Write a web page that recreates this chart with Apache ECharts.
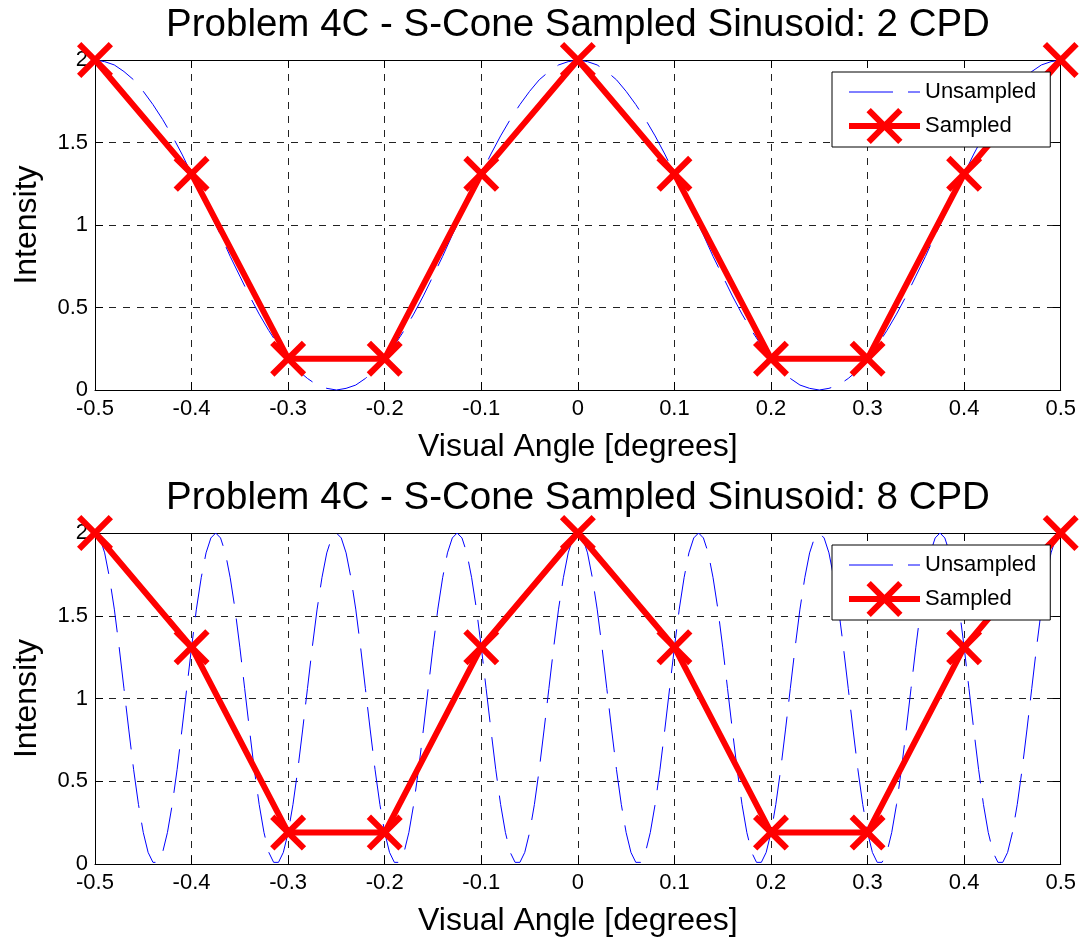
<!DOCTYPE html>
<html>
<head>
<meta charset="utf-8">
<script src="https://cdn.jsdelivr.net/npm/echarts@6/dist/echarts.min.js"></script>
<style>
html,body{margin:0;padding:0;background:#fff;}
#chart{width:1079px;height:938px;}
</style>
</head>
<body>
<div id="chart"></div>
<script>
// ---------------- data ----------------
const titles = ['Problem 4C - S-Cone Sampled Sinusoid: 2 CPD', 'Problem 4C - S-Cone Sampled Sinusoid: 8 CPD'];
const xName = 'Visual Angle [degrees]';
const yName = 'Intensity';
const seriesNames = ['Unsampled', 'Sampled'];

// sample positions (degrees) and sampled intensities
const sampleAngles = [-0.5, -0.4, -0.3, -0.2, -0.1, 0, 0.1, 0.2, 0.3, 0.4, 0.5];
const sampled2 = [2, 1.31, 0.19, 0.19, 1.31, 2, 1.31, 0.19, 0.19, 1.31, 2];
const sampled8 = [2, 1.31, 0.19, 0.19, 1.31, 2, 1.31, 0.19, 0.19, 1.31, 2];

// unsampled curves, read along the angle axis from -0.5 deg
const curveStart = -0.5;
const step2 = 0.01;   // spacing of unsampled2 values (deg)
const step8 = 0.005;  // spacing of unsampled8 values (deg)
const unsampled2 = [
  2.00,1.99,1.97,1.93,1.88,1.81,1.73,1.64,1.54,1.43,
  1.31,1.19,1.06,0.94,0.81,0.69,0.57,0.46,0.36,0.27,
  0.19,0.12,0.07,0.03,0.01,0.00,0.01,0.03,0.07,0.12,
  0.19,0.27,0.36,0.46,0.57,0.69,0.81,0.94,1.06,1.19,
  1.31,1.43,1.54,1.64,1.73,1.81,1.88,1.93,1.97,1.99,
  2.00,1.99,1.97,1.93,1.88,1.81,1.73,1.64,1.54,1.43,
  1.31,1.19,1.06,0.94,0.81,0.69,0.57,0.46,0.36,0.27,
  0.19,0.12,0.07,0.03,0.01,0.00,0.01,0.03,0.07,0.12,
  0.19,0.27,0.36,0.46,0.57,0.69,0.81,0.94,1.06,1.19,
  1.31,1.43,1.54,1.64,1.73,1.81,1.88,1.93,1.97,1.99,
  2.00
];
const unsampled8 = [
  2.00,1.97,1.88,1.73,1.54,1.31,1.06,0.81,0.57,0.36,0.19,0.07,0.01,0.01,0.07,0.19,0.36,0.57,0.81,1.06,1.31,1.54,1.73,1.88,1.97,
  2.00,1.97,1.88,1.73,1.54,1.31,1.06,0.81,0.57,0.36,0.19,0.07,0.01,0.01,0.07,0.19,0.36,0.57,0.81,1.06,1.31,1.54,1.73,1.88,1.97,
  2.00,1.97,1.88,1.73,1.54,1.31,1.06,0.81,0.57,0.36,0.19,0.07,0.01,0.01,0.07,0.19,0.36,0.57,0.81,1.06,1.31,1.54,1.73,1.88,1.97,
  2.00,1.97,1.88,1.73,1.54,1.31,1.06,0.81,0.57,0.36,0.19,0.07,0.01,0.01,0.07,0.19,0.36,0.57,0.81,1.06,1.31,1.54,1.73,1.88,1.97,
  2.00,1.97,1.88,1.73,1.54,1.31,1.06,0.81,0.57,0.36,0.19,0.07,0.01,0.01,0.07,0.19,0.36,0.57,0.81,1.06,1.31,1.54,1.73,1.88,1.97,
  2.00,1.97,1.88,1.73,1.54,1.31,1.06,0.81,0.57,0.36,0.19,0.07,0.01,0.01,0.07,0.19,0.36,0.57,0.81,1.06,1.31,1.54,1.73,1.88,1.97,
  2.00,1.97,1.88,1.73,1.54,1.31,1.06,0.81,0.57,0.36,0.19,0.07,0.01,0.01,0.07,0.19,0.36,0.57,0.81,1.06,1.31,1.54,1.73,1.88,1.97,
  2.00,1.97,1.88,1.73,1.54,1.31,1.06,0.81,0.57,0.36,0.19,0.07,0.01,0.01,0.07,0.19,0.36,0.57,0.81,1.06,1.31,1.54,1.73,1.88,1.97,
  2.00
];

// ---------------- build ----------------
const FONT = "'Liberation Sans', Arial, Helvetica, sans-serif";
const xPairs = (vals, step) => vals.map((v, i) => [+(curveStart + i * step).toFixed(4), v]);
const zip = (xs, ys) => xs.map((x, i) => [x, ys[i]]);
const X_PATH = 'path://M0,12 L12,0 L50,38 L88,0 L100,12 L62,50 L100,88 L88,100 L50,62 L12,100 L0,88 L38,50 Z';

const panels = [
  { top: 60, height: 330, titleTop: 6, legendTop: 72, curve: xPairs(unsampled2, step2), samp: zip(sampleAngles, sampled2) },
  { top: 533, height: 331, titleTop: 479, legendTop: 545, curve: xPairs(unsampled8, step8), samp: zip(sampleAngles, sampled8) }
];

const grid = [], xAxis = [], yAxis = [], series = [], title = [], legend = [];
const axisLine = { show: true, onZero: false, lineStyle: { color: '#000', width: 1 } };
const labelStyle = { color: '#000', fontSize: 22, fontFamily: FONT };

panels.forEach((p, i) => {
  grid.push({ left: 95, width: 966, top: p.top, height: p.height, show: false });
  title.push({
    text: titles[i], left: 578, top: p.titleTop, textAlign: 'center', padding: 0,
    textStyle: { color: '#000', fontSize: 38.5, fontWeight: 'normal', fontFamily: FONT }
  });
  // bottom x axis
  xAxis.push({
    type: 'value', gridIndex: i, position: 'bottom', min: -0.5, max: 0.5, interval: 0.1,
    axisLine, axisTick: { show: true, inside: true, length: 8, lineStyle: { color: '#000' } },
    axisLabel: Object.assign({ margin: 8 }, labelStyle),
    splitLine: { show: true, lineStyle: { color: '#222', type: [7, 7], width: 1 } },
    name: xName, nameLocation: 'middle', nameGap: 41,
    nameTextStyle: { color: '#000', fontSize: 32, fontFamily: FONT }
  });
  // top x axis (box)
  xAxis.push({
    type: 'value', gridIndex: i, position: 'top', min: -0.5, max: 0.5, interval: 0.1,
    axisLine, axisTick: { show: true, inside: true, length: 8, lineStyle: { color: '#000' } },
    axisLabel: { show: false }, splitLine: { show: false }
  });
  yAxis.push({
    type: 'value', gridIndex: i, position: 'left', min: 0, max: 2, interval: 0.5,
    axisLine, axisTick: { show: true, inside: true, length: 8, lineStyle: { color: '#000' } },
    axisLabel: Object.assign({ margin: 7 }, labelStyle),
    splitLine: { show: true, lineStyle: { color: '#222', type: [7, 7], width: 1 } },
    name: yName, nameLocation: 'middle', nameGap: 52, nameRotate: 90,
    nameTextStyle: { color: '#000', fontSize: 32, fontFamily: FONT }
  });
  yAxis.push({
    type: 'value', gridIndex: i, position: 'right', min: 0, max: 2, interval: 0.5,
    axisLine, axisTick: { show: true, inside: true, length: 8, lineStyle: { color: '#000' } },
    axisLabel: { show: false }, splitLine: { show: false }
  });
  series.push({
    name: seriesNames[0], type: 'line', xAxisIndex: 2 * i, yAxisIndex: 2 * i,
    data: p.curve, symbol: 'none', showSymbol: false, smooth: false,
    lineStyle: { color: '#0000ff', width: 1, type: [44, 15] },
    itemStyle: { color: '#0000ff' }, z: 2
  });
  series.push({
    name: seriesNames[1], type: 'line', xAxisIndex: 2 * i, yAxisIndex: 2 * i,
    data: p.samp, symbol: X_PATH, symbolSize: 36, showSymbol: true, clip: false,
    lineStyle: { color: '#ff0000', width: 6 },
    itemStyle: { color: '#ff0000' }, z: 3
  });
  legend.push({
    orient: 'vertical', left: 832, top: p.legendTop,
    data: [
      { name: seriesNames[0], itemStyle: { opacity: 0 }, lineStyle: { width: 1, color: '#0000ff', type: [44, 15] } },
      { name: seriesNames[1], lineStyle: { width: 6, color: '#ff0000' } }
    ],
    selectedMode: false,
    itemWidth: 71, itemHeight: 45, itemGap: -2,
    padding: [2, 14, 3, 14],
    backgroundColor: '#fff', borderColor: '#000', borderWidth: 1, borderRadius: 0,
    textStyle: { color: '#000', fontSize: 22, fontFamily: FONT }, z: 10
  });
});

const chart = echarts.init(document.getElementById('chart'), null, { renderer: 'canvas' });
chart.setOption({ animation: false, backgroundColor: '#fff', title, grid, xAxis, yAxis, series, legend });
</script>
</body>
</html>
